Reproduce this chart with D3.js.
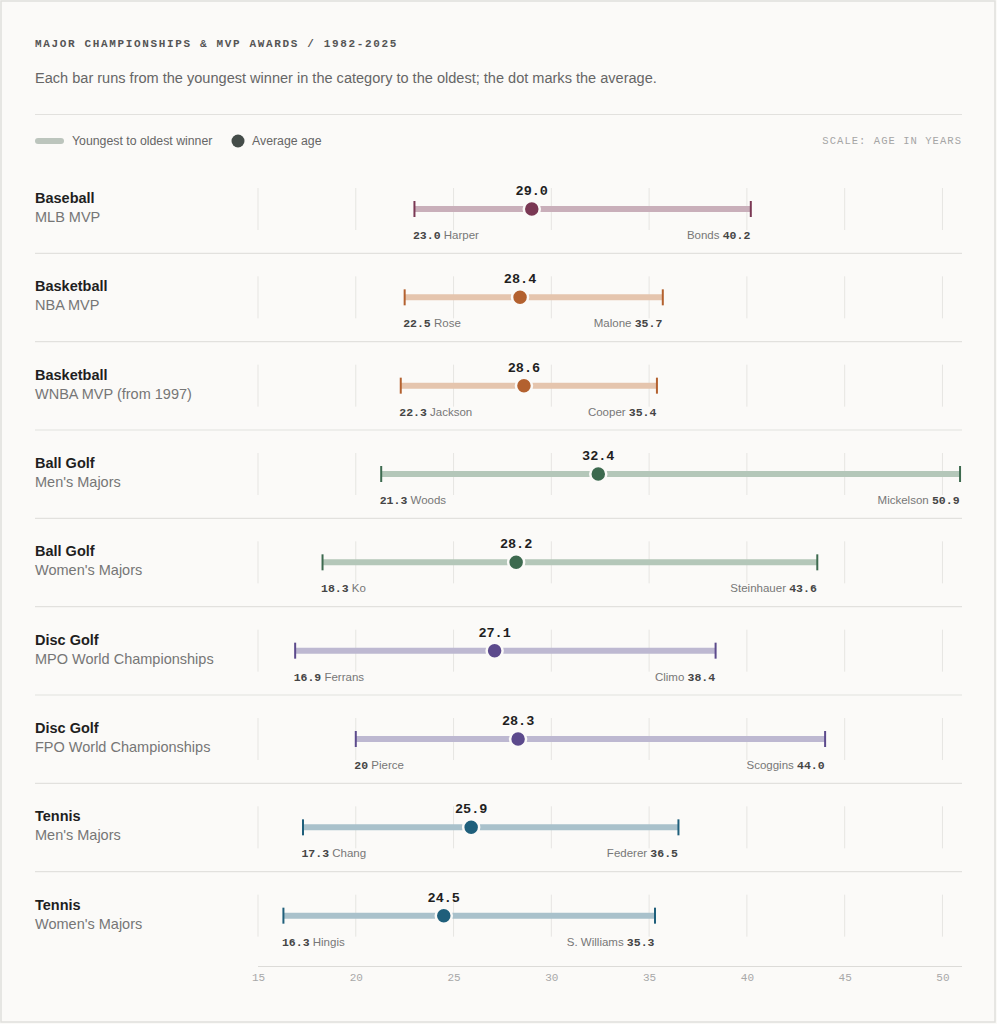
<!DOCTYPE html>
<html><head><meta charset="utf-8">
<script src="https://cdn.jsdelivr.net/npm/d3@7"></script>
<style>
html,body{margin:0;padding:0;background:#fbfaf8;}
svg{display:block;}
</style></head>
<body>
<svg id="chart" width="997" height="1024"></svg>
<script>
const sports = ["Baseball","Basketball","Basketball","Ball Golf","Ball Golf","Disc Golf","Disc Golf","Tennis","Tennis"];
const events = ["MLB MVP","NBA MVP","WNBA MVP (from 1997)","Men's Majors","Women's Majors","MPO World Championships","FPO World Championships","Men's Majors","Women's Majors"];
const minAge = [23.0,22.5,22.3,21.3,18.3,16.9,20,17.3,16.3];
const minLabel = ["23.0","22.5","22.3","21.3","18.3","16.9","20","17.3","16.3"];
const minName = ["Harper","Rose","Jackson","Woods","Ko","Ferrans","Pierce","Chang","Hingis"];
const maxAge = [40.2,35.7,35.4,50.9,43.6,38.4,44.0,36.5,35.3];
const maxLabel = ["40.2","35.7","35.4","50.9","43.6","38.4","44.0","36.5","35.3"];
const maxName = ["Bonds","Malone","Cooper","Mickelson","Steinhauer","Climo","Scoggins","Federer","S. Williams"];
const avgAge = [29.0,28.4,28.6,32.4,28.2,27.1,28.3,25.9,24.5];
const avgLabel = ["29.0","28.4","28.6","32.4","28.2","27.1","28.3","25.9","24.5"];
const tickValues = [15,20,25,30,35,40,45,50];

const darkColor = {"Baseball":"#7a3854","Basketball":"#b3612f","Ball Golf":"#3d6a4f","Disc Golf":"#5c4a8c","Tennis":"#1f5f7b"};
const lightColor = {"Baseball":"#c9afba","Basketball":"#e5c5ae","Ball Golf":"#b4c7b9","Disc Golf":"#bdb8d1","Tennis":"#a9c1cb"};

const rows = sports.map((s,i)=>({sport:s,event:events[i],min:minAge[i],minL:minLabel[i],minN:minName[i],max:maxAge[i],maxL:maxLabel[i],maxN:maxName[i],avg:avgAge[i],avgL:avgLabel[i]}));

const MONO = "'Liberation Mono','DejaVu Sans Mono',monospace";
const SANS = "'Liberation Sans',Arial,sans-serif";

const svg = d3.select("#chart");
svg.append("rect").attr("x",1).attr("y",1).attr("width",994).attr("height",1021)
  .attr("fill","#fbfaf8").attr("stroke","#e0dfdc").attr("stroke-width",1.5);

const left = 35, right = 962;
const x = d3.scaleLinear().domain([15,51]).range([258,962]);
const y = d3.scaleBand().domain(d3.range(rows.length)).range([165,960]);

// header
svg.append("text").attr("x",left).attr("y",47).text("MAJOR CHAMPIONSHIPS & MVP AWARDS / 1982-2025")
  .attr("font-family",MONO).attr("font-size",11).attr("font-weight","bold").attr("letter-spacing","1.65px").attr("fill","#555");
svg.append("text").attr("x",left).attr("y",83).text("Each bar runs from the youngest winner in the category to the oldest; the dot marks the average.")
  .attr("font-family",SANS).attr("font-size",14.55).attr("fill","#666");
svg.append("line").attr("x1",left).attr("x2",right).attr("y1",114.5).attr("y2",114.5).attr("stroke","#e2e1de").attr("stroke-width",1);

// legend
svg.append("line").attr("x1",38).attr("x2",61).attr("y1",141).attr("y2",141).attr("stroke","#bcc5bd").attr("stroke-width",6).attr("stroke-linecap","round");
svg.append("text").attr("x",72).attr("y",145).text("Youngest to oldest winner").attr("font-family",SANS).attr("font-size",12.3).attr("fill","#666");
svg.append("circle").attr("cx",238).attr("cy",141).attr("r",6.5).attr("fill","#444c49");
svg.append("text").attr("x",252).attr("y",145).text("Average age").attr("font-family",SANS).attr("font-size",12.3).attr("fill","#666");
svg.append("text").attr("x",right).attr("y",144).attr("text-anchor","end").text("SCALE: AGE IN YEARS")
  .attr("font-family",MONO).attr("font-size",10.5).attr("letter-spacing","1.05px").attr("fill","#a5a5a5");

const bw = y.bandwidth();
const g = svg.selectAll("g.row").data(rows).join("g").attr("class","row")
  .attr("transform",(d,i)=>`translate(0,${y(i)})`);

// separators
g.filter((d,i)=>i<rows.length-1).append("line").attr("x1",left).attr("x2",right)
  .attr("y1",bw).attr("y2",bw).attr("stroke","#e2e1de").attr("stroke-width",1.2);

const cy = 44;
// gridlines
g.each(function(){
  d3.select(this).selectAll("line.grid").data(tickValues).join("line").attr("class","grid")
    .attr("x1",d=>x(d)).attr("x2",d=>x(d)).attr("y1",cy-21).attr("y2",cy+21)
    .attr("stroke","#e6e5e2").attr("stroke-width",1);
});

// labels
g.append("text").attr("x",left).attr("y",cy-6).text(d=>d.sport)
  .attr("font-family",SANS).attr("font-size",14.5).attr("font-weight","bold").attr("fill","#1f1f1f");
g.append("text").attr("x",left).attr("y",cy+13).text(d=>d.event)
  .attr("font-family",SANS).attr("font-size",14.5).attr("fill","#767676");

// range bar
g.append("line").attr("x1",d=>x(d.min)).attr("x2",d=>x(d.max)).attr("y1",cy).attr("y2",cy)
  .attr("stroke",d=>lightColor[d.sport]).attr("stroke-width",6);
// end caps
g.append("line").attr("x1",d=>x(d.min)).attr("x2",d=>x(d.min)).attr("y1",cy-8).attr("y2",cy+8)
  .attr("stroke",d=>darkColor[d.sport]).attr("stroke-width",2);
g.append("line").attr("x1",d=>x(d.max)).attr("x2",d=>x(d.max)).attr("y1",cy-8).attr("y2",cy+8)
  .attr("stroke",d=>darkColor[d.sport]).attr("stroke-width",2);
// avg dot
g.append("circle").attr("cx",d=>x(d.avg)).attr("cy",cy).attr("r",8)
  .attr("fill",d=>darkColor[d.sport]).attr("stroke","#fbfaf8").attr("stroke-width",2.5);
g.append("text").attr("x",d=>x(d.avg)).attr("y",cy-14).attr("text-anchor","middle").text(d=>d.avgL)
  .attr("font-family",MONO).attr("font-size",13.5).attr("font-weight","bold").attr("fill","#1f1f1f");

// min label
const tmin = g.append("text").attr("x",d=>x(d.min)-1.5).attr("y",cy+30);
tmin.append("tspan").text(d=>d.minL).attr("font-family",MONO).attr("font-size",11.5).attr("font-weight","bold").attr("fill","#454545");
tmin.append("tspan").text(d=>" "+d.minN).attr("font-family",SANS).attr("font-size",11.5).attr("fill","#777");
// max label
const tmax = g.append("text").attr("x",d=>x(d.max)-0.5).attr("y",cy+30).attr("text-anchor","end");
tmax.append("tspan").text(d=>d.maxN+" ").attr("font-family",SANS).attr("font-size",11.5).attr("fill","#777");
tmax.append("tspan").text(d=>d.maxL).attr("font-family",MONO).attr("font-size",11.5).attr("font-weight","bold").attr("fill","#454545");

// axis
const axisG = svg.append("g").attr("transform","translate(0,966)");
axisG.call(d3.axisBottom(x).tickValues(tickValues).tickSize(0).tickPadding(7));
axisG.select(".domain").attr("stroke","#dcdbd8").attr("d","M258,0.5H962");
axisG.selectAll("text").attr("font-family",MONO).attr("font-size",11).attr("fill","#a8a8a8");
</script>
</body></html>
